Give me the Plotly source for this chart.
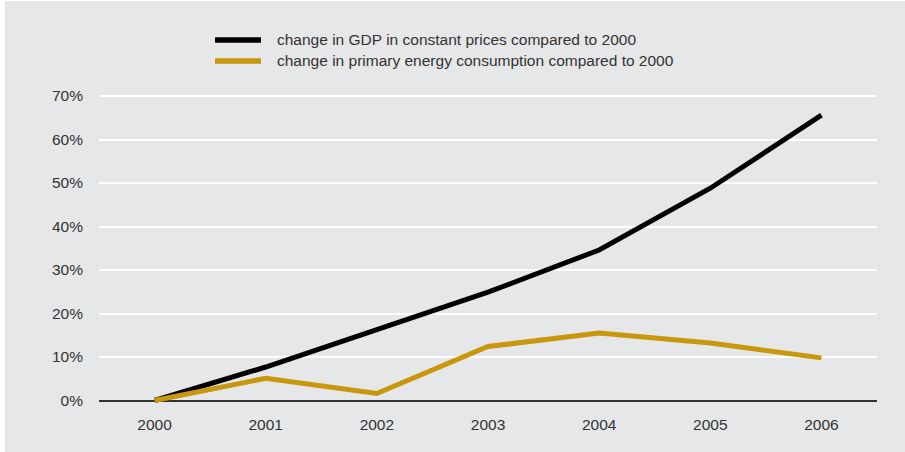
import plotly.graph_objects as go

# Yearly values, percent change relative to 2000
years = ["2000", "2001", "2002", "2003", "2004", "2005", "2006"]
gdp_change = [0.0, 7.7, 16.3, 24.9, 34.6, 48.8, 65.6]
energy_change = [0.0, 5.1, 1.6, 12.4, 15.5, 13.2, 9.8]

series_names = [
    "change in GDP in constant prices compared to 2000",
    "change in primary energy consumption compared to 2000",
]
y_ticks = [0, 10, 20, 30, 40, 50, 60, 70]
y_tick_labels = [f"{v}%" for v in y_ticks]

GDP_COLOR = "#000000"
ENERGY_COLOR = "#c8970d"
BG = "#e6e7e8"
TEXT = "#333333"
FONT = "Liberation Sans, Arial, Helvetica, sans-serif"

W, H = 905, 452
ML, MR, MT, MB = 99, 28, 94, 47
PW, PH = W - ML - MR, H - MT - MB


def px_x(x):
    return (x - ML) / PW


def px_y(y):
    return (H - MB - y) / PH


fig = go.Figure()
fig.add_trace(go.Scatter(x=years, y=gdp_change, mode="lines",
                         line=dict(color=GDP_COLOR, width=5),
                         name=series_names[0], hoverinfo="x+y"))
fig.add_trace(go.Scatter(x=years, y=energy_change, mode="lines",
                         line=dict(color=ENERGY_COLOR, width=5),
                         name=series_names[1], hoverinfo="x+y"))

shapes = [
    # panel background with a thin white strip on the left
    dict(type="rect", xref="paper", yref="paper",
         x0=px_x(5), x1=px_x(W + 5), y0=px_y(H + 5), y1=px_y(1),
         fillcolor=BG, line=dict(width=0), layer="below"),
]
annotations = []
legend_rows = [(40, GDP_COLOR, series_names[0]), (61, ENERGY_COLOR, series_names[1])]
for yy, col, name in legend_rows:
    shapes.append(dict(type="line", xref="paper", yref="paper",
                       x0=px_x(215), x1=px_x(261), y0=px_y(yy), y1=px_y(yy),
                       line=dict(color=col, width=5.5)))
    annotations.append(dict(xref="paper", yref="paper", x=px_x(275), y=px_y(yy),
                            text=name, showarrow=False, xanchor="left", yanchor="middle",
                            font=dict(family=FONT, size=15.5, color=TEXT)))

fig.update_layout(
    width=W, height=H,
    margin=dict(l=ML, r=MR, t=MT, b=MB, pad=0),
    paper_bgcolor="white",
    plot_bgcolor="rgba(0,0,0,0)",
    showlegend=False,
    shapes=shapes,
    annotations=annotations,
    font=dict(family=FONT, size=15.5, color=TEXT),
    xaxis=dict(type="category", range=[-0.5, 6.5], showgrid=False,
               showline=False, zeroline=False, ticks="",
               ticklabelstandoff=8,
               tickfont=dict(family=FONT, size=15.5, color=TEXT),
               fixedrange=True),
    yaxis=dict(range=[-4.5 / 4.35, 70 + 2 / 4.35], tickvals=y_ticks,
               ticktext=y_tick_labels, showgrid=True, gridcolor="white",
               gridwidth=1.5, zeroline=True, zerolinecolor="#333333",
               zerolinewidth=1.5, showline=False, ticks="",
               ticklabelstandoff=15,
               tickfont=dict(family=FONT, size=15.5, color=TEXT),
               fixedrange=True),
)

fig.write_html("out.html")
